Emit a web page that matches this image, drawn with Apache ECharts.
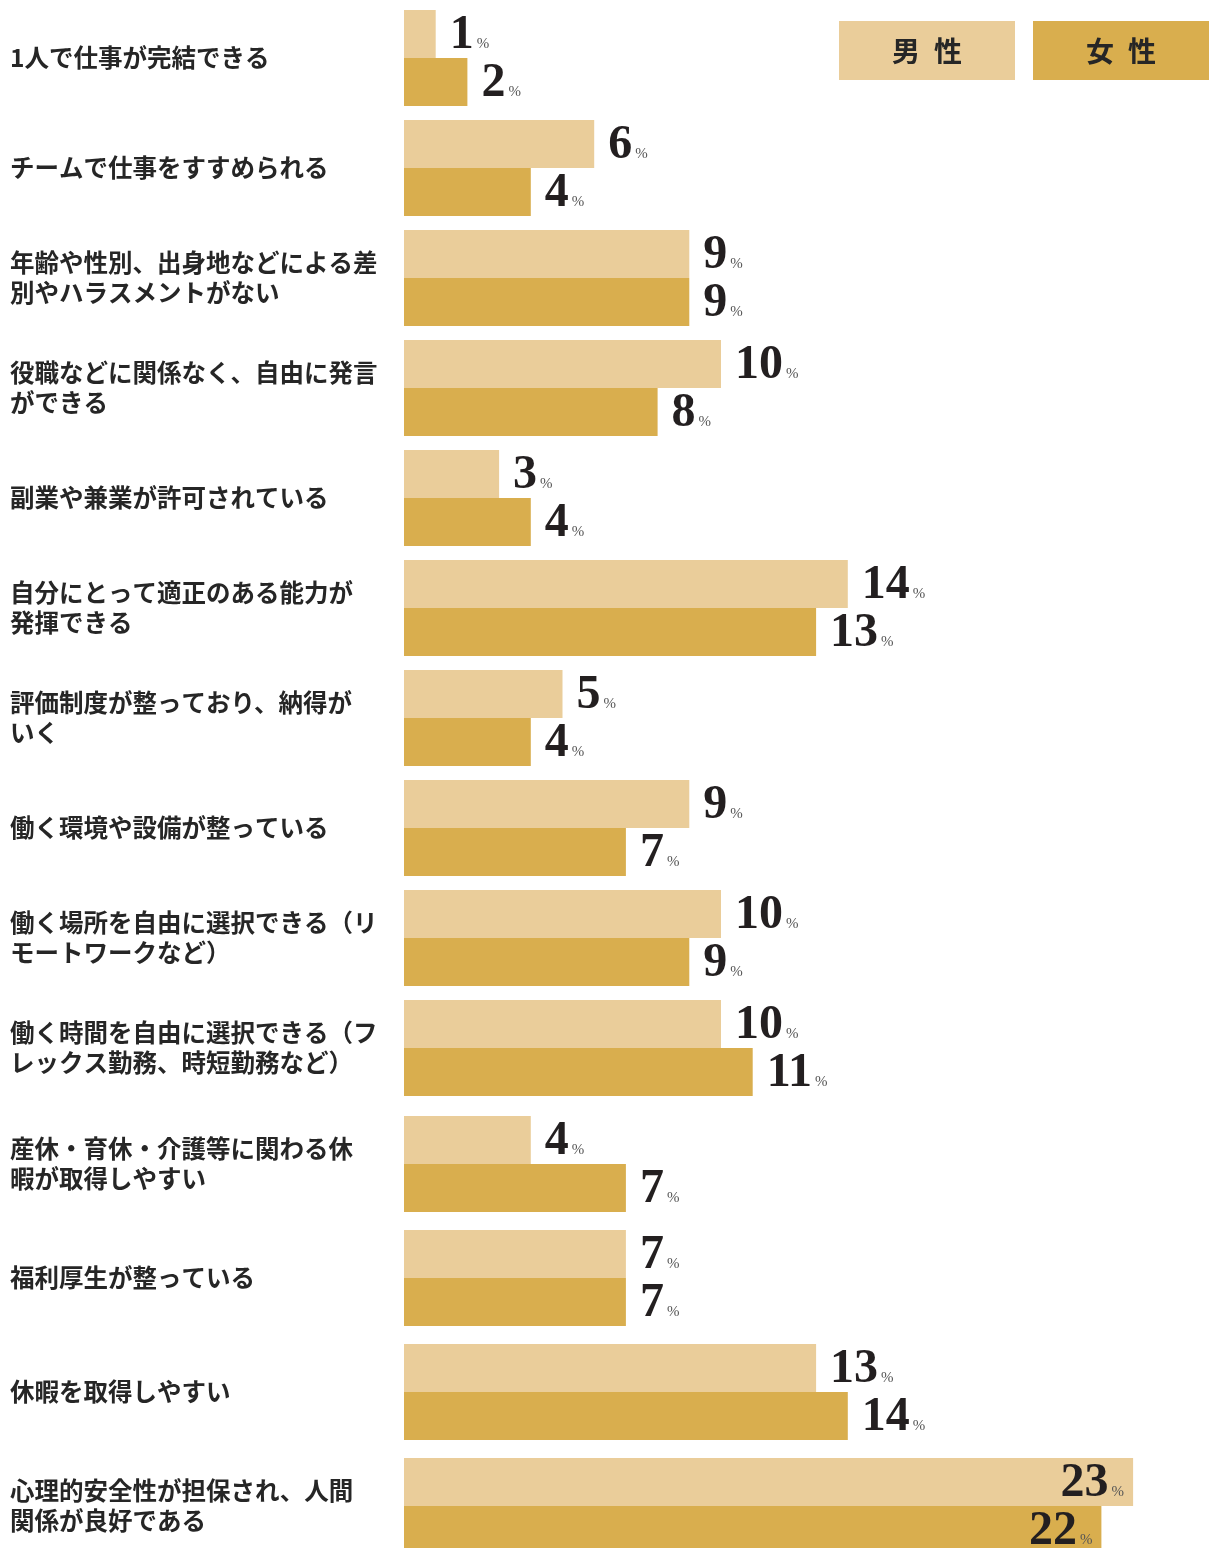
<!DOCTYPE html>
<html>
<head>
<meta charset="utf-8">
<script src="https://cdn.jsdelivr.net/npm/echarts@6/dist/echarts.min.js"></script>
<style>
  html, body { margin: 0; padding: 0; background: #ffffff; overflow: hidden; }
  #chart { width: 1209px; height: 1570px; }
</style>
</head>
<body>
<div id="chart"></div>
<script>
// 働きやすい職場の条件（男女別・%）
const categories = [
  '1人で仕事が完結できる',
  'チームで仕事をすすめられる',
  '年齢や性別、出身地などによる差\n別やハラスメントがない',
  '役職などに関係なく、自由に発言\nができる',
  '副業や兼業が許可されている',
  '自分にとって適正のある能力が\n発揮できる',
  '評価制度が整っており、納得が\nいく',
  '働く環境や設備が整っている',
  '働く場所を自由に選択できる（リ\nモートワークなど）',
  '働く時間を自由に選択できる（フ\nレックス勤務、時短勤務など）',
  '産休・育休・介護等に関わる休\n暇が取得しやすい',
  '福利厚生が整っている',
  '休暇を取得しやすい',
  '心理的安全性が担保され、人間\n関係が良好である'
];
const maleValues   = [1, 6, 9, 10, 3, 14, 5, 9, 10, 10, 4, 7, 13, 23];
const femaleValues = [2, 4, 9, 8, 4, 13, 4, 7, 9, 11, 7, 7, 14, 22];
const seriesNames  = ['男性', '女性'];
const legendLabels = ['男\u2002性', '女\u2002性'];

const MALE_COLOR = '#EACD9A';
const FEMALE_COLOR = '#D9AE4E';
const TEXT_COLOR = '#262626';
const X_MAX = 25;

// two stacked grids: the lower block of rows is spaced a little wider
const blocks = [
  { top: 3, height: 1100, from: 0, to: 10 },
  { top: 1107, height: 456, from: 10, to: 14 }
];

const valueLabel = {
  show: true,
  position: 'right',
  distance: 14,
  offset: [0, 2],
  formatter: p => '{n|' + p.value + '}{p|%}',
  rich: {
    n: { fontFamily: 'Liberation Serif', fontWeight: 'bold', fontSize: 48, color: '#231f20', lineHeight: 48 },
    p: { fontFamily: 'Liberation Serif', fontSize: 15, color: '#555555', verticalAlign: 'bottom', lineHeight: 15, padding: [0, 0, 8, 3] }
  }
};

// long bars carry their value inside the bar end
function barData(values, from, to) {
  return values.slice(from, to).map(v =>
    v > 20 ? { value: v, label: { position: 'insideRight', distance: 9 } } : v
  );
}

const grid = blocks.map(b => ({ left: 404, width: 792.5, top: b.top, height: b.height, containLabel: false }));
const xAxis = blocks.map((b, i) => ({
  type: 'value', gridIndex: i, min: 0, max: X_MAX, show: false
}));
const yAxis = blocks.map((b, i) => ({
  type: 'category', gridIndex: i, inverse: true,
  data: categories.slice(b.from, b.to),
  axisLine: { show: false }, axisTick: { show: false }, splitLine: { show: false },
  axisLabel: {
    align: 'left', margin: 394,
    fontFamily: 'Noto Sans CJK JP', fontWeight: 'bold', fontSize: 24.5,
    lineHeight: 30, color: TEXT_COLOR
  }
}));

const series = [];
blocks.forEach((b, i) => {
  [[maleValues, MALE_COLOR, seriesNames[0]], [femaleValues, FEMALE_COLOR, seriesNames[1]]].forEach(([vals, color, name]) => {
    series.push({
      type: 'bar', name: name, xAxisIndex: i, yAxisIndex: i,
      barWidth: 48, barGap: '0%',
      itemStyle: { color: color },
      label: valueLabel,
      silent: true,
      data: barData(vals, b.from, b.to)
    });
  });
});

// legend boxes with the series name inside
const legendGraphics = [
  { x: 839, color: MALE_COLOR, text: legendLabels[0] },
  { x: 1033, color: FEMALE_COLOR, text: legendLabels[1] }
].map(l => ({
  type: 'group', left: l.x, top: 21,
  children: [
    { type: 'rect', shape: { x: 0, y: 0, width: 176, height: 59 }, style: { fill: l.color } },
    { type: 'text', x: 88, y: 30, style: {
        text: l.text, align: 'center', verticalAlign: 'middle',
        font: 'bold 28px "Noto Sans CJK JP"', fill: TEXT_COLOR } }
  ]
}));

const chart = echarts.init(document.getElementById('chart'), null, { renderer: 'canvas' });
chart.setOption({
  animation: false,
  backgroundColor: '#ffffff',
  grid: grid,
  xAxis: xAxis,
  yAxis: yAxis,
  series: series,
  graphic: legendGraphics
});
</script>
</body>
</html>
